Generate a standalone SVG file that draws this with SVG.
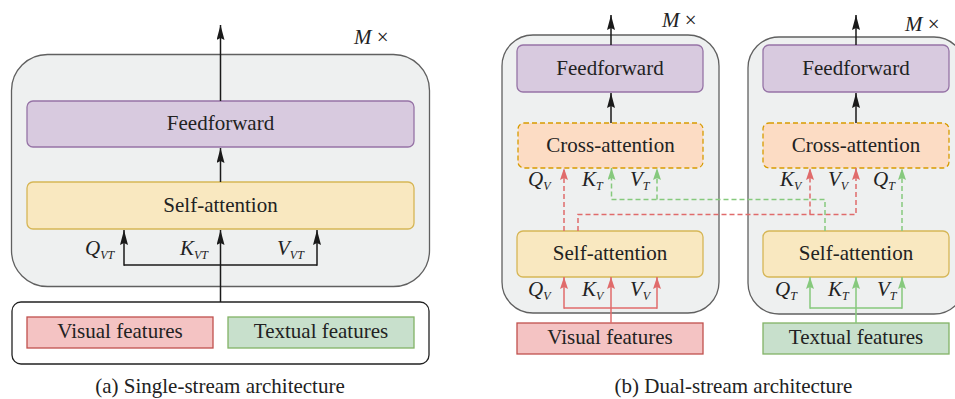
<svg xmlns="http://www.w3.org/2000/svg" width="955" height="399" viewBox="0 0 955 399" font-family="Liberation Serif, serif">
<defs>
<style>
text, tspan{font-family:'Liberation Serif', serif}
text{fill:#222}
.t{font-size:21px;text-anchor:middle}
.lab{font-size:21px;font-style:italic}
.sub{font-size:12px;font-style:italic}
.mx{font-size:21px}
.grp{fill:#eef0f0;stroke:#606060;stroke-width:1.3}
.ff{fill:#d8cadf;stroke:#9673a6;stroke-width:1.3}
.sa{fill:#f9e8c0;stroke:#d6b656;stroke-width:1.3}
.ca{fill:#fcdcc4;stroke:#d79b00;stroke-width:1.3;stroke-dasharray:5 3}
.vis{fill:#f4c3c3;stroke:#c0504d;stroke-width:1.3}
.txt{fill:#c8e0cc;stroke:#82b366;stroke-width:1.3}
.blk{fill:none;stroke:#1a1a1a;stroke-width:1.5}
.red{fill:none;stroke:#e06b6b;stroke-width:1.5}
.grn{fill:none;stroke:#86c97d;stroke-width:1.5}
.dash{stroke-dasharray:5 3}
</style>
<marker id="ab" viewBox="0 0 15 8" refX="15" refY="4" markerWidth="15" markerHeight="8" markerUnits="userSpaceOnUse" orient="auto"><path d="M0,0 L15,4 L0,8 L2,4 z" fill="#1a1a1a"/></marker>
<marker id="ar" viewBox="0 0 12 8" refX="12" refY="4" markerWidth="12" markerHeight="8" markerUnits="userSpaceOnUse" orient="auto"><path d="M0,0 L12,4 L0,8 L2,4 z" fill="#e06b6b"/></marker>
<marker id="ag" viewBox="0 0 12 8" refX="12" refY="4" markerWidth="12" markerHeight="8" markerUnits="userSpaceOnUse" orient="auto"><path d="M0,0 L12,4 L0,8 L2,4 z" fill="#86c97d"/></marker>
</defs>

<!-- (a) single stream -->
<g id="a-group"><rect class="grp" x="11.5" y="54.5" width="418" height="232" rx="36"/></g>
<g id="a-inputs"><rect x="12" y="302" width="417" height="62" rx="9" fill="#fff" stroke="#222" stroke-width="1.3"/></g>
<g id="a-ff"><rect class="ff" x="27" y="101" width="387" height="46" rx="6"/><text class="t" x="220.5" y="130">Feedforward</text></g>
<g id="a-sa"><rect class="sa" x="27" y="182" width="387" height="47" rx="6"/><text class="t" x="220.5" y="211.5">Self-attention</text></g>
<g id="a-vis"><rect class="vis" x="27" y="317" width="186" height="31"/><text class="t" x="120" y="338">Visual features</text></g>
<g id="a-txt"><rect class="txt" x="228" y="317" width="186" height="31"/><text class="t" x="321" y="338">Textual features</text></g>
<text class="mx" x="354" y="44"><tspan class="lab">M</tspan> ×</text>
<text x="85" y="255"><tspan class="lab">Q</tspan><tspan class="sub" dy="4">VT</tspan></text>
<text x="180" y="255"><tspan class="lab">K</tspan><tspan class="sub" dy="4">VT</tspan></text>
<text x="277" y="255"><tspan class="lab">V</tspan><tspan class="sub" dy="4">VT</tspan></text>
<text class="t" x="220" y="393">(a) Single-stream architecture</text>

<!-- (b) dual stream -->
<g id="b-group-v"><rect class="grp" x="502" y="35" width="217" height="278" rx="31"/></g>
<g id="b-group-t"><rect class="grp" x="748" y="37" width="217" height="277" rx="31"/></g>
<g id="b-ff-v"><rect class="ff" x="517" y="45" width="186" height="47" rx="6"/><text class="t" x="610" y="74.5">Feedforward</text></g>
<g id="b-ca-v"><rect class="ca" x="518" y="123" width="185" height="45" rx="6"/><text class="t" x="610.5" y="151.5">Cross-attention</text></g>
<g id="b-sa-v"><rect class="sa" x="517" y="231" width="186" height="46" rx="6"/><text class="t" x="610" y="260">Self-attention</text></g>
<g id="b-vis"><rect class="vis" x="517" y="323" width="186" height="31"/><text class="t" x="610" y="344">Visual features</text></g>
<g id="b-ff-t"><rect class="ff" x="763" y="45" width="186" height="47" rx="6"/><text class="t" x="856" y="74.5">Feedforward</text></g>
<g id="b-ca-t"><rect class="ca" x="763" y="123" width="186" height="45" rx="6"/><text class="t" x="856" y="151.5">Cross-attention</text></g>
<g id="b-sa-t"><rect class="sa" x="763" y="231" width="186" height="46" rx="6"/><text class="t" x="856" y="260">Self-attention</text></g>
<g id="b-txt"><rect class="txt" x="763" y="323" width="186" height="31"/><text class="t" x="856" y="344">Textual features</text></g>

<text class="mx" x="662" y="27"><tspan class="lab">M</tspan> ×</text>
<text class="mx" x="905" y="31"><tspan class="lab">M</tspan> ×</text>

<text x="528" y="186"><tspan class="lab">Q</tspan><tspan class="sub" dy="4">V</tspan></text>
<text x="582" y="186"><tspan class="lab">K</tspan><tspan class="sub" dy="4">T</tspan></text>
<text x="630" y="186"><tspan class="lab">V</tspan><tspan class="sub" dy="4">T</tspan></text>
<text x="528" y="296"><tspan class="lab">Q</tspan><tspan class="sub" dy="4">V</tspan></text>
<text x="582" y="296"><tspan class="lab">K</tspan><tspan class="sub" dy="4">V</tspan></text>
<text x="630" y="296"><tspan class="lab">V</tspan><tspan class="sub" dy="4">V</tspan></text>

<text x="780" y="186"><tspan class="lab">K</tspan><tspan class="sub" dy="4">V</tspan></text>
<text x="828" y="186"><tspan class="lab">V</tspan><tspan class="sub" dy="4">V</tspan></text>
<text x="873" y="186"><tspan class="lab">Q</tspan><tspan class="sub" dy="4">T</tspan></text>
<text x="775" y="296"><tspan class="lab">Q</tspan><tspan class="sub" dy="4">T</tspan></text>
<text x="828" y="296"><tspan class="lab">K</tspan><tspan class="sub" dy="4">T</tspan></text>
<text x="877" y="296"><tspan class="lab">V</tspan><tspan class="sub" dy="4">T</tspan></text>

<text class="t" x="733.5" y="393">(b) Dual-stream architecture</text>

<g id="connectors">
<!-- (a) -->
<line class="blk" x1="220.5" y1="101" x2="220.5" y2="25" marker-end="url(#ab)"/>
<line class="blk" x1="220.5" y1="182" x2="220.5" y2="148" marker-end="url(#ab)"/>
<line class="blk" x1="220.5" y1="302" x2="220.5" y2="230" marker-end="url(#ab)"/>
<polyline class="blk" points="124,265 317,265"/>
<line class="blk" x1="124" y1="265.7" x2="124" y2="230" marker-end="url(#ab)"/>
<line class="blk" x1="317" y1="265.7" x2="317" y2="230" marker-end="url(#ab)"/>
<!-- (b) black -->
<line class="blk" x1="611" y1="45" x2="611" y2="15" marker-end="url(#ab)"/>
<line class="blk" x1="611" y1="123" x2="611" y2="93" marker-end="url(#ab)"/>
<line class="blk" x1="856" y1="45" x2="856" y2="15" marker-end="url(#ab)"/>
<line class="blk" x1="856" y1="123" x2="856" y2="93" marker-end="url(#ab)"/>
<!-- (b) visual solid -->
<line class="red" x1="611" y1="323" x2="611" y2="277" marker-end="url(#ar)"/>
<polyline class="red" points="564,308 657,308"/>
<line class="red" x1="564" y1="308.7" x2="564" y2="277" marker-end="url(#ar)"/>
<line class="red" x1="657" y1="308.7" x2="657" y2="277" marker-end="url(#ar)"/>
<!-- (b) textual solid -->
<line class="grn" x1="856" y1="323" x2="856" y2="277" marker-end="url(#ag)"/>
<polyline class="grn" points="810,308 902,308"/>
<line class="grn" x1="810" y1="308.7" x2="810" y2="277" marker-end="url(#ag)"/>
<line class="grn" x1="902" y1="308.7" x2="902" y2="277" marker-end="url(#ag)"/>
<!-- (b) dashed -->
<line class="red dash" x1="564" y1="231" x2="564" y2="168" marker-end="url(#ar)"/>
<polyline class="red dash" points="578,231 578,214.5 856,214.5 856,168" marker-end="url(#ar)"/>
<line class="red dash" x1="810" y1="214.5" x2="810" y2="168" marker-end="url(#ar)"/>
<polyline class="grn dash" points="825,231 825,199.5 611.5,199.5 611.5,168" marker-end="url(#ag)"/>
<line class="grn dash" x1="657" y1="199.5" x2="657" y2="168" marker-end="url(#ag)"/>
<line class="grn dash" x1="902" y1="231" x2="902" y2="168" marker-end="url(#ag)"/>
</g>
</svg>
